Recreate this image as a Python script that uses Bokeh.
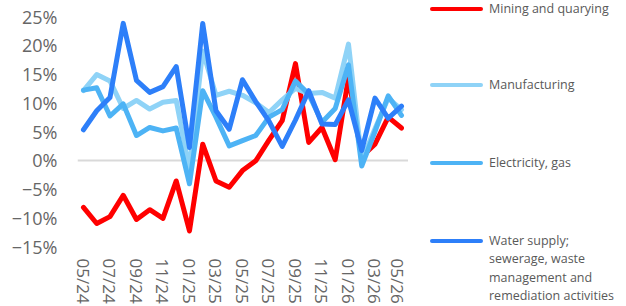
from bokeh.plotting import figure
from bokeh.layouts import row
from bokeh.models import Range1d, FixedTicker, Div
from bokeh.embed import file_html
from bokeh.resources import INLINE

months = ["05/24", "06/24", "07/24", "08/24", "09/24", "10/24", "11/24", "12/24",
          "01/25", "02/25", "03/25", "04/25", "05/25", "06/25", "07/25", "08/25",
          "09/25", "10/25", "11/25", "12/25", "01/26", "02/26", "03/26", "04/26", "05/26"]

mining = [-8.2, -11.0, -9.8, -6.1, -10.3, -8.6, -10.1, -3.6, -12.3, 2.8, -3.6, -4.7,
          -1.8, -0.1, 3.5, 6.9, 16.8, 3.1, 5.7, 0.1, 14.4, 0.6, 2.8, 7.5, 5.6]
manufacturing = [12.1, 14.9, 13.8, 9.0, 10.4, 8.9, 10.1, 10.4, -1.5, 19.0, 11.3, 12.0,
                 11.3, 10.0, 8.3, 10.5, 12.5, 11.6, 11.8, 10.8, 20.2, 0.0, 5.5, 10.8, 8.8]
electricity = [12.2, 12.6, 7.7, 9.8, 4.3, 5.7, 5.1, 5.6, -4.1, 12.1, 7.5, 2.5,
               3.4, 4.3, 7.5, 8.8, 13.8, 11.5, 6.6, 9.0, 16.6, -1.0, 5.0, 11.2, 7.8]
water = [5.3, 8.6, 10.9, 23.8, 13.9, 11.8, 12.8, 16.3, 2.2, 23.8, 8.6, 5.4,
         14.0, 10.2, 6.8, 2.4, 7.0, 12.1, 6.3, 6.2, 10.5, 1.7, 10.8, 7.3, 9.4]

series_names = ["Mining and quarying", "Manufacturing", "Electricity, gas",
                "Water supply;<br>sewerage, waste<br>management and<br>remediation activities"]
series_colors = ["#ff0000", "#8fd3f7", "#4db3f5", "#2d7ff9"]

y_ticks = [-15, -10, -5, 0, 5, 10, 15, 20, 25]
y_tick_labels = ["\u221215%", "\u221210%", "\u22125%", "0%", "5%", "10%", "15%", "20%", "25%"]

xs = list(range(len(months)))

p = figure(width=408, height=306, output_backend="svg", toolbar_location=None,
           x_range=Range1d(-0.45, 24.53), y_range=Range1d(-15, 25),
           min_border_left=77, min_border_right=0, min_border_top=16, min_border_bottom=60)
p.outline_line_color = None
p.background_fill_color = "white"

for vals, col in zip([mining, manufacturing, electricity, water], series_colors):
    p.line(xs, vals, line_color=col, line_width=5, line_join="round", line_cap="round")

# axes
p.yaxis.ticker = FixedTicker(ticks=y_ticks)
p.yaxis.major_label_overrides = {t: l for t, l in zip(y_ticks, y_tick_labels)}
p.xaxis.ticker = FixedTicker(ticks=xs[::2])
p.xaxis.major_label_overrides = {i: months[i] for i in xs}
p.xaxis.major_label_orientation = "vertical"
for ax in (p.xaxis, p.yaxis):
    ax.axis_line_color = None
    ax.major_tick_line_color = None
    ax.minor_tick_line_color = None
    ax.major_tick_out = 0
    ax.major_tick_in = 0
    ax.minor_tick_out = 0
    ax.minor_tick_in = 0
    ax.axis_label_standoff = 0
    ax.major_label_text_color = "#666666"
    ax.major_label_text_font = "Open Sans"
p.yaxis.major_label_text_font_size = "18px"
p.xaxis.major_label_text_font_size = "17px"
p.yaxis.major_label_standoff = 20
p.xaxis.major_label_standoff = 12

p.xgrid.grid_line_color = None
p.ygrid.ticker = FixedTicker(ticks=[0])
p.ygrid.grid_line_color = "#d9d9d9"
p.ygrid.grid_line_width = 2

# legend (HTML, positioned next to the plot)
legend_centers = [9, 85, 163, 241]
parts = ['<div style="position:relative;width:218px;height:306px;">']
for name, col, cy in zip(series_names, series_colors, legend_centers):
    parts.append(
        f'<div style="position:absolute;left:22px;top:{cy - 2}px;width:53px;height:4px;'
        f'border-radius:2px;background:{col};"></div>')
    parts.append(
        f'<div style="position:absolute;left:81px;top:{cy - 9}px;white-space:nowrap;'
        f'font-family:\'Open Sans\';font-size:12.5px;line-height:18.3px;color:#595959;">{name}</div>')
parts.append('</div>')
legend_div = Div(text="".join(parts), width=218, height=306, margin=0)

layout = row(p, legend_div)
open("out.html", "w").write(file_html(layout, INLINE))
